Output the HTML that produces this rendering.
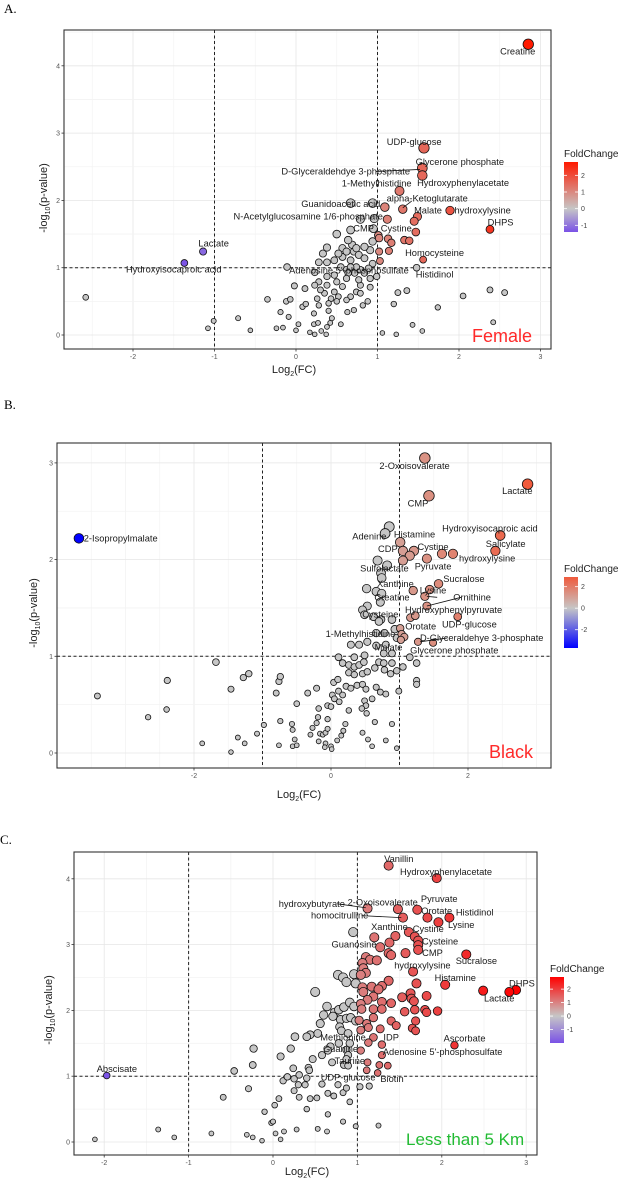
<!DOCTYPE html>
<html><head><meta charset="utf-8"><style>
html,body{margin:0;padding:0;background:#fff}
svg{display:block;font-family:"Liberation Sans",sans-serif}
</style></head><body>
<svg id="chart" width="625" height="1180" viewBox="0 0 625 1180" xmlns="http://www.w3.org/2000/svg">
<text x="4" y="13" font-family="Liberation Serif,serif" font-size="13">A.</text>
<text x="4" y="409" font-family="Liberation Serif,serif" font-size="13">B.</text>
<text x="0" y="844" font-family="Liberation Serif,serif" font-size="13">C.</text>
</svg>
<script>
// ---------- Panel A (Female) ----------
const femalePoints=[[-2.58,0.56],[-1.08,0.10],[-1.01,0.21],[-0.71,0.25],[-0.56,0.07],[-0.35,0.53],[-0.19,0.34],[-0.12,0.50],[-0.07,0.53],[-0.09,0.27],[-0.24,0.10],[-0.16,0.11],[0,0.07],[0.03,0.16],[-0.02,0.73],[0.11,0.69],[0.08,0.42],[0.12,0.46],[0.17,0.04],[0.23,0.01],[0.22,0.16],[0.27,0.18],[0.31,0.06],[0.38,0.12],[0.37,0.01],[0.42,0.18],[0.44,0.25],[0.55,0.16],[0.22,0.32],[0.28,0.44],[0.40,0.36],[0.63,0.34],[0.71,0.37],[0.82,0.44],[0.88,0.50],[0.74,0.64],[0.67,0.57],[0.79,0.74],[0.91,0.71],[1.06,0.03],[1.23,0.01],[1.20,0.46],[1.25,0.63],[1.36,0.66],[1.43,0.15],[1.55,0.06],[1.74,0.41],[2.05,0.58],[2.38,0.67],[2.56,0.63],[2.42,0.19],[-0.11,1.01],[0.38,1.30],[0.50,1.50],[0.67,1.56],[0.79,1.72],[0.96,1.73],[0.67,1.96],[0.94,1.96],[0.95,1.58],[0.28,1.08],[0.38,1.08],[0.33,1.21],[0.57,1.29],[0.69,1.34],[0.71,1.24],[0.57,1.16],[0.67,1.11],[0.77,1.19],[0.84,1.14],[0.91,1.26],[0.94,1.06],[0.55,1.01],[0.62,0.97],[0.72,0.92],[0.79,0.97],[0.47,0.89],[0.38,0.87],[0.23,0.93],[0.28,0.79],[0.38,0.74],[0.50,0.79],[0.57,0.72],[0.47,0.64],[0.35,0.62],[0.43,0.54],[0.52,0.57],[0.62,0.52],[0.30,0.67],[0.23,0.74],[0.26,0.54],[0.40,0.47],[0.50,0.50],[0.64,0.92],[0.74,1.01],[0.84,0.92],[0.89,0.99],[0.99,0.87],[0.91,0.84],[0.62,0.84],[0.77,0.82],[0.79,0.62],[0.62,1.24],[0.64,1.41],[0.74,1.29],[0.52,1.21],[0.47,1.11],[0.67,1.01],[0.84,1.31],[0.94,1.39],
[2.85,4.32],[1.57,2.78],[1.55,2.48],[1.55,2.37],[1.27,2.14],[1.31,1.87],[1.09,1.90],[1.49,1.76],[1.45,1.69],[1.89,1.85],[2.38,1.57],[1.12,1.72],[1.47,1.53],[1.01,1.48],[1.02,1.44],[1.13,1.43],[1.17,1.37],[1.33,1.41],[1.39,1.40],[1.14,1.25],[1.02,1.24],[1.56,1.12],[1.03,1.10],[1.48,1.00],[-1.14,1.24],[-1.37,1.07]];
const femaleLabels=[["Creatine",2.72,4.21],["UDP-glucose",1.45,2.87],["Glycerone phosphate",2.01,2.57],["D-Glyceraldehdye 3-phosphate",0.61,2.43],["1-Methylhistidine",0.99,2.25],["Hydroxyphenylacetate",2.05,2.26],["alpha-Ketoglutarate",1.61,2.03],["Guanidoacetic acid",0.55,1.95],["N-Acetylglucosamine 1/6-phosphate",0.15,1.76],["Malate",1.62,1.85],["hydroxylysine",2.29,1.85],["DHPS",2.51,1.67],["CMP",0.83,1.58],["Cystine",1.23,1.58],["Lactate",-1.01,1.36],["Homocysteine",1.70,1.22],["Hydroxyisocaproic acid",-1.50,0.97],["Adenosine 5'-phosphosulfate",0.65,0.96],["Histidinol",1.70,0.90]];
const femaleXTicks=[-2,-1,0,1,2,3];
const femaleYTicks=[0,1,2,3,4];
const femaleLegendTicks=[2,1,0,-1];

// ---------- Panel B (Black) ----------
const blackPoints=[[0.85,2.34],[0.79,2.27],[0.68,1.99],[0.82,1.94],[0.73,1.86],[0.74,1.81],[0.52,1.70],[0.66,1.67],[0.74,1.65],[0.72,1.56],[0.53,1.52],[0.46,1.48],[0.49,1.43],[0.62,1.41],[0.73,1.38],[0.89,1.38],[0.70,1.36],[0.66,1.24],[0.78,1.24],[0.93,1.28],[0.96,1.19],[0.53,1.15],[0.29,1.12],[0.41,1.12],[0.66,1.11],[0.80,1.12],[0.77,1.03],[0.89,1.03],[1.15,0.99],[0.11,0.99],[0.34,0.99],[0.49,1.01],[0.17,0.93],[0.26,0.91],[0.34,0.89],[0.41,0.91],[0.48,0.94],[0.70,0.94],[0.77,0.93],[0.89,0.93],[1.25,0.93],[0.26,0.83],[0.34,0.81],[0.46,0.82],[0.53,0.84],[0.64,0.88],[0.78,0.86],[0.87,0.82],[0.96,0.85],[1.05,0.89],[1.25,0.75],[1.25,0.71],[0.04,0.73],[0.10,0.76],[0.22,0.69],[0.29,0.67],[0.38,0.70],[0.46,0.71],[0.51,0.66],[0.66,0.68],[0.72,0.63],[0.80,0.61],[0.99,0.64],[0.02,0.60],[0.11,0.64],[0.17,0.60],[0.05,0.56],[0.12,0.53],[0.60,0.56],[0.49,0.54],[0.51,0.49],[0.45,0.46],[0.26,0.44],[0.52,0.41],[-0.05,0.49],[0.00,0.48],[-0.18,0.46],[-0.21,0.67],[-0.34,0.62],[-0.50,0.51],[-0.74,0.33],[-0.80,0.62],[-0.76,0.74],[-0.74,0.79],[-0.19,0.37],[-0.05,0.35],[0.21,0.30],[0.64,0.32],[0.89,0.30],[-0.57,0.30],[-0.98,0.29],[-1.08,0.20],[-1.26,0.10],[-1.36,0.16],[-1.46,0.01],[-1.88,0.10],[-0.76,0.08],[-0.56,0.24],[-0.53,0.14],[-0.56,0.07],[-0.50,0.08],[-0.30,0.19],[-0.27,0.26],[-0.21,0.31],[-0.16,0.20],[-0.12,0.19],[-0.08,0.21],[-0.05,0.25],[-0.18,0.12],[-0.08,0.10],[-0.09,0.06],[0.00,0.07],[0.01,0.04],[0.09,0.13],[0.18,0.23],[0.15,0.18],[0.46,0.21],[0.54,0.14],[0.60,0.07],[0.80,0.13],[0.96,0.05],[-1.68,0.94],[-1.20,0.82],[-1.28,0.78],[-1.46,0.66],[-2.39,0.75],[-2.40,0.45],[-2.67,0.37],[-3.41,0.59],
[1.37,3.05],[2.87,2.78],[1.43,2.66],[2.47,2.25],[2.40,2.09],[-3.68,2.22],[1.01,2.18],[1.21,2.09],[1.05,2.09],[1.15,2.04],[1.62,2.06],[1.78,2.06],[1.40,2.01],[1.05,1.99],[1.57,1.75],[1.44,1.69],[1.20,1.68],[1.37,1.62],[1.40,1.52],[1.85,1.41],[1.16,1.40],[1.23,1.42],[1.01,1.29],[1.03,1.23],[1.07,1.20],[1.02,1.17],[1.27,1.15],[1.49,1.14]];
const blackLabels=[["2-Oxoisovalerate",1.22,2.97],["Lactate",2.72,2.71],["CMP",1.27,2.58],["Hydroxyisocaproic acid",2.32,2.32],["2-Isopropylmalate",-3.07,2.22],["Histamine",1.22,2.26],["Adenine",0.56,2.24],["Salicylate",2.55,2.16],["Cystine",1.49,2.13],["CDP",0.83,2.11],["hydroxylysine",2.28,2.01],["Pyruvate",1.49,1.93],["Sulfolactate",0.78,1.91],["Sucralose",1.94,1.80],["Xanthine",0.94,1.75],["Lysine",1.49,1.68],["Creatine",0.89,1.61],["Ornithine",2.06,1.61],["Hydroxyphenylpyruvate",1.79,1.48],["Cysteine",0.72,1.43],["UDP-glucose",2.02,1.33],["Orotate",1.31,1.31],["1-Methylhistidine",0.43,1.23],["D-Glyceraldehye 3-phosphate",2.20,1.19],["Malate",0.84,1.09],["Glycerone phosphate",1.80,1.06]];
const blackXTicks=[-2,0,2];
const blackYTicks=[0,1,2,3];
const blackLegendTicks=[2,0,-2];

// ---------- Panel C (Less than 5 Km) ----------
const nearPoints=[[0.95,3.19],[0.50,2.28],[0.77,2.54],[0.83,2.50],[0.87,2.43],[0.96,2.55],[0.98,2.41],[0.64,2.06],[0.60,1.93],[0.56,1.80],[0.73,1.97],[0.78,2.01],[0.84,2.05],[0.91,2.12],[0.96,2.06],[0.71,1.91],[0.80,1.86],[0.87,1.88],[0.92,1.89],[0.98,1.84],[0.79,1.75],[0.81,1.69],[0.53,1.65],[0.44,1.63],[0.40,1.60],[0.26,1.60],[0.89,1.65],[0.91,1.50],[0.78,1.50],[0.68,1.45],[0.65,1.39],[0.58,1.32],[0.87,1.40],[0.89,1.32],[0.87,1.26],[0.70,1.21],[0.84,1.17],[0.89,1.16],[0.47,1.26],[0.42,1.13],[0.43,1.09],[0.24,1.12],[0.21,1.42],[0.09,1.30],[-0.23,1.42],[-0.24,1.17],[-0.46,1.08],[-0.59,0.68],[-0.29,0.81],[-0.10,0.46],[0.02,0.56],[0.07,0.66],[0.12,0.93],[0.17,0.99],[0.25,0.96],[0.31,1.02],[0.40,0.97],[0.25,0.78],[0.31,0.68],[0.30,0.87],[0.38,0.87],[0.44,0.66],[0.52,0.67],[0.40,0.50],[0.58,0.88],[0.65,0.74],[0.72,0.70],[0.77,0.87],[0.83,0.75],[0.87,0.82],[0.91,0.61],[1.03,0.84],[1.14,0.85],[0.65,0.42],[0.83,0.31],[0.98,0.24],[1.25,0.25],[-0.02,0.29],[0.00,0.31],[0.03,0.13],[0.13,0.16],[0.28,0.19],[0.09,0.04],[0.53,0.20],[0.64,0.16],[-0.13,0.02],[-0.24,0.07],[-0.31,0.11],[-0.73,0.13],[-1.17,0.07],[-1.36,0.19],[-2.11,0.04],
[1.37,4.20],[1.94,4.01],[1.12,3.55],[1.48,3.54],[1.71,3.53],[1.83,3.41],[2.09,3.41],[1.54,3.41],[1.96,3.34],[1.45,3.13],[1.20,3.11],[1.61,3.19],[1.68,3.12],[1.72,3.06],[1.72,2.99],[1.72,2.92],[1.38,3.03],[1.27,2.96],[1.37,2.87],[1.40,2.84],[1.57,2.87],[2.29,2.85],[1.10,2.81],[1.15,2.77],[1.23,2.76],[1.06,2.72],[1.07,2.64],[1.10,2.57],[1.04,2.54],[1.66,2.59],[1.70,2.41],[1.37,2.45],[2.04,2.39],[2.88,2.31],[2.80,2.28],[2.49,2.30],[1.06,2.35],[1.17,2.36],[1.29,2.37],[1.07,2.28],[1.25,2.32],[1.63,2.26],[1.64,2.18],[1.67,2.14],[1.82,2.22],[1.53,2.20],[1.19,2.21],[1.12,2.16],[1.29,2.13],[1.40,2.11],[1.04,2.10],[1.19,2.02],[1.29,2.02],[1.05,2.02],[1.56,1.98],[1.68,2.01],[1.80,2.01],[1.82,1.97],[1.95,1.99],[1.19,1.89],[1.02,1.85],[1.40,1.84],[1.46,1.77],[1.69,1.84],[1.11,1.80],[1.13,1.74],[1.65,1.73],[1.69,1.69],[1.27,1.72],[1.04,1.70],[1.19,1.59],[2.15,1.47],[1.13,1.51],[1.29,1.48],[1.04,1.39],[1.29,1.32],[1.12,1.21],[1.26,1.17],[1.36,1.16],[1.11,1.09],[1.24,1.05],[-1.97,1.01]];
const nearLabels=[["Vanillin",1.49,4.30],["Hydroxyphenylacetate",2.05,4.10],["hydroxybutyrate",0.46,3.62],["2-Oxoisovalerate",1.30,3.64],["Pyruvate",1.97,3.69],["Orotate",1.94,3.51],["Histidinol",2.39,3.49],["homocitrulline",0.79,3.44],["Lysine",2.23,3.30],["Xanthine",1.38,3.27],["Cystine",1.84,3.24],["Cysteine",1.98,3.05],["Guanosine",0.96,3.00],["CMP",1.89,2.87],["Sucralose",2.41,2.75],["hydroxylysine",1.77,2.68],["Histamine",2.16,2.49],["DHPS",2.95,2.41],["Lactate",2.68,2.18],["Methionine",0.83,1.59],["IDP",1.40,1.59],["Ascorbate",2.27,1.57],["Guanine",0.80,1.41],["Adenosine 5'-phosphosulfate",2.01,1.37],["Taurine",0.91,1.23],["Abscisate",-1.85,1.11],["UDP-glucose",0.89,0.98],["Biotin",1.41,0.96]];
const nearXTicks=[-2,-1,0,1,2,3];
const nearYTicks=[0,1,2,3,4];
const nearLegendTicks=[2,1,0,-1];

const NS="http://www.w3.org/2000/svg";
const svg=document.getElementById('chart');
function mk(tag,attrs,parent){const e=document.createElementNS(NS,tag);for(const k in attrs)e.setAttribute(k,attrs[k]);(parent||svg).appendChild(e);return e;}
function hex(c){return [parseInt(c.slice(1,3),16),parseInt(c.slice(3,5),16),parseInt(c.slice(5,7),16)];}
function mix(a,b,t){const A=hex(a),B=hex(b);return 'rgb('+A.map((v,i)=>Math.round(v+(B[i]-v)*t)).join(',')+')';}

function panel(cfg,pts,labels,xt,yt,lt){
  const g=mk('g',{});
  
  
  const sx=v=>cfg.x0+v*cfg.xs, sy=v=>cfg.y0-v*cfg.ys;
  const B=cfg.box;
  // grid
  const xmin=(B.l-cfg.x0)/cfg.xs, xmax=(B.r-cfg.x0)/cfg.xs;
  const ymin=(cfg.y0-B.b)/cfg.ys, ymax=(cfg.y0-B.t)/cfg.ys;
  for(let v=Math.ceil(xmin*2)/2;v<=xmax;v+=0.5){const gl=mk('line',{x1:sx(v),x2:sx(v),y1:B.t,y2:B.b,stroke:Number.isInteger(v)&&xt.includes(v)?'#e6e6e6':'#f3f3f3','stroke-width':0.8},g);}
  for(let v=Math.ceil(ymin*2)/2;v<=ymax;v+=0.5){const gl=mk('line',{x1:B.l,x2:B.r,y1:sy(v),y2:sy(v),stroke:Number.isInteger(v)?'#e6e6e6':'#f3f3f3','stroke-width':0.8},g);}
  // dashed thresholds
  [-1,1].forEach(v=>{const d=mk('line',{x1:sx(v),x2:sx(v),y1:B.t,y2:B.b,stroke:'#222','stroke-width':1,'stroke-dasharray':'3,2.5'},g);});
  const dh=mk('line',{x1:B.l,x2:B.r,y1:sy(1),y2:sy(1),stroke:'#222','stroke-width':1,'stroke-dasharray':'3,2.5'},g);
  
  // points: gray first
  const sig=p=>p[1]>1&&Math.abs(p[0])>1;
  const order=pts.filter(p=>!sig(p)).concat(pts.filter(sig));
  order.forEach(p=>{
    let fill='#c6c6c6';
    if(sig(p)){fill=p[0]>0?mix('#c6c6c6',cfg.hi,Math.min(1,p[0]/cfg.hiV)):mix('#c6c6c6',cfg.lo,Math.min(1,-p[0]/cfg.loV));}
    const r=cfg.r0+cfg.rk*Math.min(p[1],cfg.rcap);
    const c=mk('circle',{cx:sx(p[0]),cy:sy(p[1]),r:r,fill:fill,stroke:'#111','stroke-width':0.8},g);
    
    
  });
  // leader lines
  (cfg.leaders||[]).forEach(l=>{const ll=mk('line',{x1:sx(l[0]),y1:sy(l[1]),x2:sx(l[2]),y2:sy(l[3]),stroke:'#111','stroke-width':0.8},g);});
  // labels
  labels.forEach(l=>{const t=mk('text',{x:sx(l[1]),y:sy(l[2]),'font-size':9.3,'text-anchor':'middle','dominant-baseline':'central',fill:'#1a1a1a'},g);t.textContent=l[0];});
  // border
  const bd=mk('rect',{x:B.l,y:B.t,width:B.r-B.l,height:B.b-B.t,fill:'none',stroke:'#333','stroke-width':1.1},g);
  
  // ticks
  xt.forEach(v=>{mk('line',{x1:sx(v),x2:sx(v),y1:B.b,y2:B.b+2.5,stroke:'#333','stroke-width':0.8},g);const t=mk('text',{x:sx(v),y:B.b+10,'font-size':7,'text-anchor':'middle',fill:'#555'},g);t.textContent=v;});
  yt.forEach(v=>{mk('line',{x1:B.l-2.5,x2:B.l,y1:sy(v),y2:sy(v),stroke:'#333','stroke-width':0.8},g);const t=mk('text',{x:B.l-4,y:sy(v)+2.5,'font-size':7,'text-anchor':'end',fill:'#555'},g);t.textContent=v;});
  // axis titles
  const xtT=mk('text',{x:cfg.xtitle[0],y:cfg.xtitle[1],'font-size':11,'text-anchor':'middle',fill:'#222'},g);
  xtT.innerHTML='Log<tspan font-size="7" dy="3">2</tspan><tspan dy="-3">(FC)</tspan>';
  
  const ytT=mk('text',{x:0,y:0,'font-size':11,'text-anchor':'middle',fill:'#222',transform:'translate('+cfg.ytitle[0]+','+cfg.ytitle[1]+') rotate(-90)'},g);
  ytT.innerHTML='-log<tspan font-size="7" dy="3">10</tspan><tspan dy="-3">(p-value)</tspan>';
  
  // legend
  const L=cfg.leg;
  const lt1=mk('text',{x:L.x,y:L.titleY,'font-size':10,fill:'#222'},g);lt1.textContent='FoldChange';
  
  const gid='grad-'+cfg.name;
  const defs=mk('defs',{},g);const lg=mk('linearGradient',{id:gid,x1:0,y1:0,x2:0,y2:1},defs);
  const zf=(L.top-0)/1; const zeroFrac=(L.vmax)/(L.vmax-L.vmin);
  mk('stop',{offset:0,'stop-color':cfg.hi},lg);mk('stop',{offset:zeroFrac,'stop-color':'#c6c6c6'},lg);mk('stop',{offset:1,'stop-color':cfg.lo},lg);
  const lb=mk('rect',{x:L.x,y:L.top,width:14,height:L.bot-L.top,fill:'url(#'+gid+')'},g);
  
  const ly=v=>L.top+(L.vmax-v)/(L.vmax-L.vmin)*(L.bot-L.top);
  lt.forEach(v=>{mk('line',{x1:L.x,x2:L.x+3,y1:ly(v),y2:ly(v),stroke:'#fff','stroke-width':0.8},g);mk('line',{x1:L.x+11,x2:L.x+14,y1:ly(v),y2:ly(v),stroke:'#fff','stroke-width':0.8},g);
    const t=mk('text',{x:L.x+17,y:ly(v)+2.5,'font-size':7,fill:'#444'},g);t.textContent=v;});
  // group tag
  const gt=mk('text',{x:cfg.tag.x,y:cfg.tag.y,'font-size':cfg.tag.size,fill:cfg.tag.color},g);gt.textContent=cfg.tag.text;
  
}

panel({name:'female',box:{l:64,r:551,t:30,b:349},x0:296,xs:81.5,y0:335,ys:67.3,hi:'#ff1a00',hiV:2.85,lo:'#7a52e6',loV:1.4,r0:2.3,rk:1.05,rcap:2.8,
  xtitle:[294,373],ytitle:[47,198],leg:{x:564,titleY:157,top:162,bot:232,vmax:2.8,vmin:-1.4},
  tag:{x:472,y:342,size:18,color:'#ff2a2a',text:'Female'},leaders:[[0.98,2.43,1.52,2.46],[1.42,1.99,1.31,1.89]]},
  femalePoints,femaleLabels,femaleXTicks,femaleYTicks,femaleLegendTicks);

panel({name:'black',box:{l:57,r:551,t:443,b:768},x0:331,xs:68.5,y0:753,ys:96.7,hi:'#f05a3c',hiV:2.87,lo:'#0000ff',loV:3.7,r0:2.3,rk:1.15,rcap:2.6,
  xtitle:[299,798],ytitle:[37,613],leg:{x:564,titleY:572,top:577,bot:648,vmax:2.9,vmin:-3.7},
  tag:{x:489,y:758,size:18,color:'#ff2a2a',text:'Black'},leaders:[[1.55,1.61,1.40,1.62],[1.90,1.61,1.40,1.52],[1.70,1.19,1.30,1.15]]},
  blackPoints,blackLabels,blackXTicks,blackYTicks,blackLegendTicks);

panel({name:'near',box:{l:74,r:537,t:852,b:1155},x0:273,xs:84.4,y0:1142,ys:65.8,hi:'#ff0000',hiV:2.9,lo:'#7a52e6',loV:2.0,r0:2.3,rk:1.0,rcap:2.3,
  xtitle:[307,1175],ytitle:[52,1010],leg:{x:550,titleY:972,top:977,bot:1043,vmax:2.9,vmin:-2.0},
  tag:{x:406,y:1145,size:17,color:'#22bb33',text:'Less than 5 Km'},leaders:[[0.76,3.62,1.10,3.56],[1.05,3.44,1.52,3.41]]},
  nearPoints,nearLabels,nearXTicks,nearYTicks,nearLegendTicks);
</script>
</body></html>
